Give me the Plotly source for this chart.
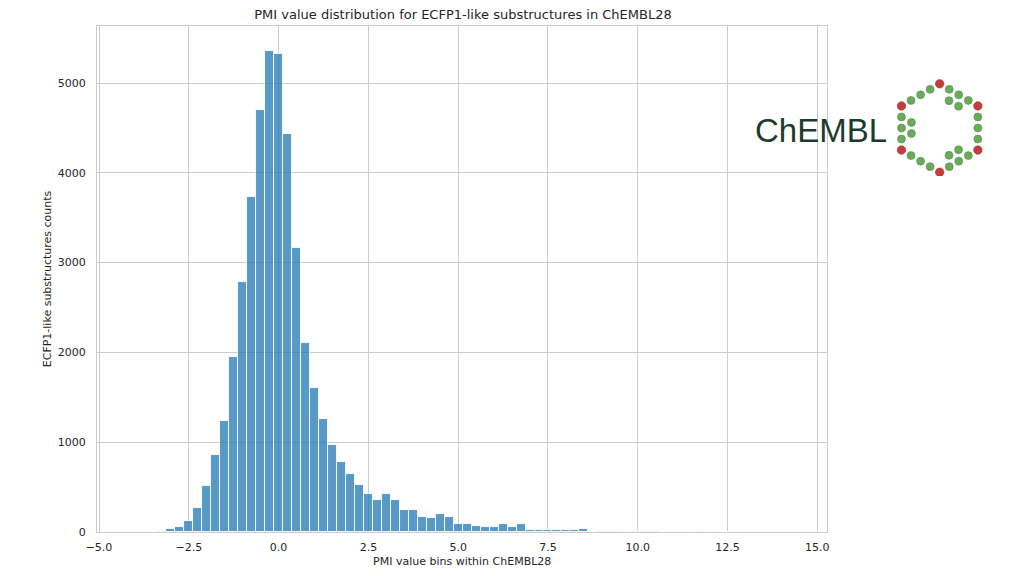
import math
import plotly.graph_objects as go

# ---------------- data ----------------
bin_centers = [
    -4.0, -3.75, -3.5, -3.25, -3.0, -2.75, -2.5, -2.25, -2.0, -1.75,
    -1.5, -1.25, -1.0, -0.75, -0.5, -0.25, 0.0, 0.25, 0.5, 0.75,
    1.0, 1.25, 1.5, 1.75, 2.0, 2.25, 2.5, 2.75, 3.0, 3.25,
    3.5, 3.75, 4.0, 4.25, 4.5, 4.75, 5.0, 5.25, 5.5, 5.75,
    6.0, 6.25, 6.5, 6.75, 7.0, 7.25, 7.5, 7.75, 8.0, 8.25,
    8.5, 8.75, 9.0, 9.25, 9.5, 9.75, 10.0, 10.25, 10.5, 10.75,
    11.0, 11.25, 11.5, 11.75, 12.0, 12.25, 12.5, 12.75, 13.0, 13.25,
    13.5, 13.75, 14.0, 14.25,
]
counts = [
    1, 2, 4, 10, 30, 57, 120, 268, 517, 857,
    1238, 1947, 2789, 3732, 4698, 5358, 5325, 4434, 3162, 2109,
    1608, 1257, 974, 785, 642, 528, 419, 358, 419, 358,
    241, 241, 166, 155, 196, 170, 92, 92, 72, 60,
    60, 90, 60, 90, 22, 22, 22, 22, 22, 22,
    34, 3, 11, 11, 11, 3, 12, 12, 12, 3,
    2, 2, 3, 15, 2, 1, 1, 1, 1, 1,
    0, 1, 0, 1,
]
bin_width = 0.25

x_ticks = [-5.0, -2.5, 0.0, 2.5, 5.0, 7.5, 10.0, 12.5, 15.0]
y_ticks = [0, 1000, 2000, 3000, 4000, 5000]

title_text = "PMI value distribution for ECFP1-like substructures in ChEMBL28"
x_title = "PMI value bins within ChEMBL28"
y_title = "ECFP1-like substructures counts"
logo_text = "ChEMBL"

# ---------------- figure ----------------
TXT = "#262626"
GRID = "#cccccc"
FONT = "DejaVu Sans"

fig = go.Figure()
fig.add_trace(go.Bar(
    x=bin_centers, y=counts, width=bin_width,
    marker=dict(color="rgba(31,119,180,0.75)",
                line=dict(color="white", width=0.9)),
    showlegend=False, hoverinfo="x+y",
))

# ---- ChEMBL logo (decoration) drawn on a hidden pixel-scaled axis ----
cx, cy, R = 941.5, 128.0, 44.2
ang = [90, 30, -30, -90, -150, 150]  # top, UR, LR, bottom, LL, UL
verts = [(cx + R * math.cos(math.radians(a)), cy - R * math.sin(math.radians(a))) for a in ang]
red_x = [v[0] for v in verts]
red_y = [v[1] for v in verts]
green_x, green_y = [], []
for i in range(6):
    (x0, y0), (x1, y1) = verts[i], verts[(i + 1) % 6]
    for f in (0.25, 0.5, 0.75):
        green_x.append(x0 + f * (x1 - x0))
        green_y.append(y0 + f * (y1 - y0))
# inner double-bond rows: edges top->UR (0), LR->bottom (2), LL->UL (4)
for i in (0, 2, 4):
    (x0, y0), (x1, y1) = verts[i], verts[(i + 1) % 6]
    mx, my = (x0 + x1) / 2, (y0 + y1) / 2
    nx, ny = cx - mx, cy - my
    nl = math.hypot(nx, ny)
    nx, ny = nx / nl * 10.0, ny / nl * 10.0
    for f in (0.375, 0.625):
        green_x.append(x0 + f * (x1 - x0) + nx)
        green_y.append(y0 + f * (y1 - y0) + ny)

fig.add_trace(go.Scatter(
    x=green_x, y=green_y, mode="markers", xaxis="x2", yaxis="y2",
    marker=dict(size=8, color="#6aaa5a", line=dict(color="#58944b", width=0.6)),
    showlegend=False, hoverinfo="skip",
))
fig.add_trace(go.Scatter(
    x=red_x, y=red_y, mode="markers", xaxis="x2", yaxis="y2",
    marker=dict(size=8.5, color="#c43c3c", line=dict(color="#a33030", width=0.6)),
    showlegend=False, hoverinfo="skip",
))

ML, MR, MT, MB = 97, 0, 26, 44
W, H = 1024, 576
pw = W - ML - MR
ph = H - MT - MB
plot_right = 829

def px_to_paper_x(px):
    return (px - ML) / pw

def py_to_paper_y(py):
    return (H - MB - py) / ph

fig.update_layout(
    width=W, height=H,
    margin=dict(l=ML, r=MR, t=MT, b=MB, pad=0),
    paper_bgcolor="white", plot_bgcolor="white",
    font=dict(family=FONT, size=11, color=TXT),
    bargap=0,
    title=dict(text=title_text, xref="container", x=463 / W, xanchor="center",
               yref="container", y=1 - 14.5 / H, yanchor="middle",
               font=dict(family=FONT, size=13, color=TXT)),
    xaxis=dict(
        domain=[0, px_to_paper_x(plot_right)],
        range=[-5.056, 15.28],
        tickvals=x_ticks, tickformat=".1f",
        showgrid=True, gridcolor=GRID, gridwidth=1,
        zeroline=False,
        showline=True, mirror=True, linecolor=GRID, linewidth=1,
        ticks="outside", ticklen=5, tickcolor="rgba(0,0,0,0)",
        tickfont=dict(family=FONT, size=11, color=TXT),
        title=dict(text=x_title, standoff=4,
                   font=dict(family=FONT, size=11, color=TXT)),
    ),
    yaxis=dict(
        range=[0, 5635],
        tickvals=y_ticks, tickformat="d",
        showgrid=True, gridcolor=GRID, gridwidth=1,
        zeroline=False,
        showline=True, mirror=True, linecolor=GRID, linewidth=1,
        ticks="outside", ticklen=8, tickcolor="rgba(0,0,0,0)",
        tickfont=dict(family=FONT, size=11, color=TXT),
        title=dict(text=y_title, standoff=3,
                   font=dict(family=FONT, size=11, color=TXT)),
    ),
    xaxis2=dict(domain=[px_to_paper_x(890), px_to_paper_x(990)], range=[890, 990],
                visible=False, anchor="y2", fixedrange=True),
    yaxis2=dict(domain=[py_to_paper_y(176), py_to_paper_y(76)], range=[176, 76],
                visible=False, anchor="x2", fixedrange=True),
    annotations=[dict(
        text=logo_text, xref="paper", yref="paper",
        x=px_to_paper_x(891), y=py_to_paper_y(130),
        xanchor="right", yanchor="middle", showarrow=False,
        font=dict(family="Liberation Sans", size=33, color="#1c3a30"),
    )],
)

fig.write_html(
    "out.html",
    config={"displayModeBar": False},
    post_script="document.body.style.margin='0';document.body.style.overflow='hidden';",
)
